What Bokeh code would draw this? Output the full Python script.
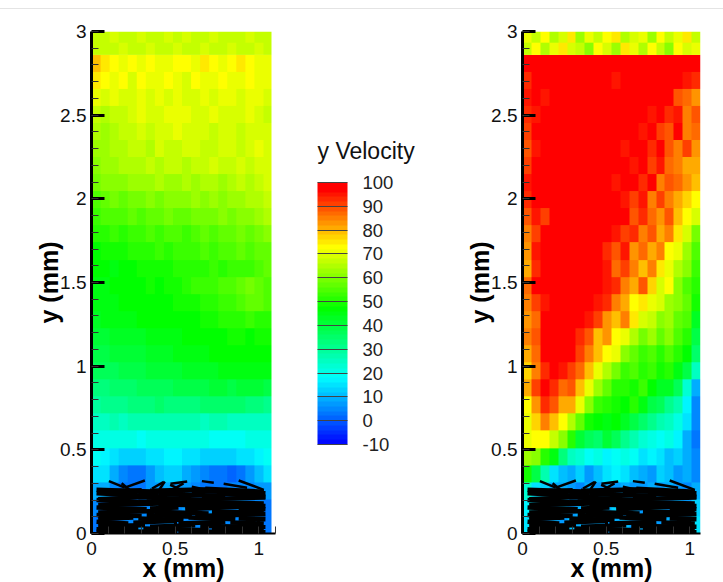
import numpy as np
from bokeh.plotting import figure
from bokeh.layouts import row
from bokeh.models import LinearColorMapper, ColorBar, FixedTicker, Range1d, Label
from bokeh.embed import file_html
from bokeh.resources import INLINE

x_major = [0, 0.5, 1]
y_major = [0, 0.5, 1, 1.5, 2, 2.5, 3]
x_labels = ["0", "0.5", "1"]
y_labels = ["0", "0.5", "1", "1.5", "2", "2.5", "3"]
legend_ticks = [-10, 0, 10, 20, 30, 40, 50, 60, 70, 80, 90, 100]
anchor_vals = [-10, 18, 47, 73, 97, 100]
anchor_rgb = [(0, 0, 255), (0, 255, 255), (0, 255, 0), (255, 255, 0), (255, 0, 0), (255, 0, 0)]

left_top = [
[66,67,68,67,66,68,67,66,68,67,68,66,67,68,67,66,67,68,66,67],
[67,66,67,68,67,66,68,67,66,68,67,67,68,66,67,68,66,67,68,66]]
left_main = [
[78,74,73,71,73,70,73,71,70,72,73,71,74,72,70,73,74,73,71,70],
[74,72,70,72,69,72,70,71,73,70,69,72,70,71,72,70,71,73,70,71],
[70,69,70,68,69,70,68,70,69,71,69,68,70,69,70,71,69,70,71,69],
[66,65,67,66,69,70,69,68,70,71,70,69,68,70,69,68,69,70,68,67],
[64,63,65,66,67,68,67,69,68,70,69,68,69,67,68,69,67,68,69,68],
[62,63,64,65,66,67,65,68,66,67,69,68,67,66,68,69,67,68,70,69],
[61,62,63,64,65,64,66,65,67,66,65,67,66,68,67,66,68,67,69,68],
[59,60,60,61,62,63,62,64,63,62,64,63,65,64,63,65,66,65,67,68],
[55,56,58,57,59,58,60,59,60,61,60,62,61,62,61,63,62,64,65,66],
[53,54,55,54,56,55,57,56,58,57,56,58,59,58,60,59,61,60,62,64],
[50,51,52,51,53,52,54,53,55,54,53,55,56,55,57,56,58,57,59,60],
[47,48,49,49,50,51,50,52,51,53,52,53,54,53,55,54,56,55,56,57],
[46,46,45,47,47,48,48,49,48,50,50,51,50,52,51,52,53,53,55,56],
[45,45,46,46,47,46,48,47,48,49,50,52,53,52,55,54,57,58,57,55],
[44,45,45,46,46,47,46,47,47,48,48,49,50,51,53,52,55,57,56,54],
[43,44,44,45,44,46,46,47,46,47,47,47,48,49,50,50,51,52,51,50],
[41,41,42,42,43,43,44,44,45,45,46,46,47,47,47,48,48,47,48,48],
[39,39,40,40,41,41,42,42,43,44,44,45,45,46,46,46,47,46,47,46],
[36,37,37,38,38,39,40,40,41,41,42,42,43,43,44,44,44,45,44,44],
[33,33,34,35,35,36,36,37,37,38,38,39,39,40,40,39,41,40,40,39],
[29,30,30,31,32,32,33,34,33,33,33,33,34,34,35,35,34,33,32,31],
[25,25,26,25,26,26,27,27,26,26,27,26,25,26,26,25,25,25,24,24],
[21,20,20,20,20,19,20,20,20,20,21,20,20,19,19,18,19,20,20,21],
[19,17,15,13,13,13,14,15,16,16,15,14,13,13,12,13,14,15,17,19],
[15,14,9,5,3,2,7,10,13,12,9,7,4,3,2,1,3,6,10,14],
[8,8,5,2,2,3,6,7,8,7,6,5,3,3,3,4,4,5,6,6],
[4,3,3,4,3,5,4,6,5,4,6,5,4,6,7,5,6,5,4,3],
[3,4,3,5,4,6,5,4,6,5,4,5,6,5,4,5,4,5,4,3]]

right_top = [
[70,66,72,64,68,74,62,70,66,72,75,64,68,70,62,72,66,70,74,66],
[66,72,64,70,74,68,66,60,72,68,62,74,70,64,72,66,60,72,68,70]]
right_main = [
[97,100,100,100,98,100,100,100,100,100,100,100,97,100,100,100,100,98,100,97],
[92,100,100,98,100,100,96,100,100,100,95,100,100,100,100,100,100,100,94,92],
[95,100,95,100,100,100,100,100,100,100,100,100,100,100,100,100,96,88,86,82],
[92,95,100,100,100,97,100,100,100,96,100,100,100,100,95,100,92,94,85,88],
[90,100,100,100,100,100,100,100,100,100,100,96,100,95,100,90,88,96,84,86],
[88,95,100,100,100,100,100,100,100,100,100,94,100,100,92,96,88,84,90,82],
[90,100,100,100,100,100,100,100,100,100,100,100,95,100,90,94,86,84,80,80],
[95,100,100,100,100,100,100,100,100,100,95,100,100,92,96,85,88,86,82,78],
[93,100,100,100,100,96,100,100,100,100,100,95,90,94,85,90,84,80,76,72],
[88,95,90,100,100,100,100,100,100,100,96,100,88,92,86,82,88,78,72,68],
[84,90,98,100,100,100,100,100,100,100,95,90,92,85,88,80,84,74,68,58],
[82,95,100,100,100,100,100,100,100,92,88,94,82,86,80,84,72,70,62,55],
[80,92,100,100,96,100,100,100,100,95,86,90,84,78,84,74,70,64,60,52],
[86,100,100,100,100,100,100,100,100,94,92,84,80,88,76,68,72,60,55,50],
[84,90,95,100,100,100,100,96,95,92,84,80,72,74,70,68,62,60,56,48],
[82,86,96,100,100,100,98,95,90,82,78,84,74,68,66,60,62,56,54,42],
[84,88,100,100,100,96,92,88,78,82,72,70,64,58,62,56,60,54,50,38],
[80,86,96,100,98,100,90,84,78,72,70,60,56,52,54,50,55,50,46,34],
[76,84,92,100,94,90,86,78,70,64,58,52,54,50,52,48,50,44,38,24],
[80,90,96,92,86,88,78,70,62,56,50,50,48,52,46,42,42,36,22,8],
[72,82,92,88,80,80,70,60,52,50,48,46,50,44,38,36,30,26,16,5],
[70,76,84,78,72,64,56,48,46,44,46,42,38,34,30,26,24,20,14,4],
[70,72,72,66,60,50,40,36,34,40,36,30,26,22,20,18,20,16,8,3],
[62,60,50,44,32,24,22,18,20,16,18,20,18,14,16,14,10,12,8,4],
[48,38,26,14,10,8,12,6,10,14,16,14,10,8,6,12,10,6,8,5],
[22,14,12,8,8,6,4,8,6,8,6,8,6,6,8,6,8,6,4,8],
[16,12,8,6,10,6,8,10,6,8,12,6,8,6,10,8,6,8,6,12],
[14,10,6,8,6,10,8,6,8,6,8,10,6,8,6,6,8,6,8,14]]

top_x0 = [.104,.199,.18,.406,.47,.48,.472,.66,.88,.79,.362,.60]
top_y0 = [.313,.274,.30,.263,.29,.26,.297,.313,.317,.297,.269,.28]
top_x1 = [.199,.319,.24,.438,.56,.55,.572,.731,1.03,.93,.43,.69]
top_y1 = [.274,.317,.25,.311,.25,.30,.311,.303,.261,.273,.307,.26]
fib_x0 = [.03,.35,.68,.04,.28,.60,.03,.40,.75,.04,.33,.66,.03,.28,.60,.04,.40,.76,.03,.35,.56,.88,.04,.38,.72,.03,.33,.62,.04,.28,.58,.88,.03,.25,.52,.83,.04,.35,.65,.03,.31,.72,.03,.52]
fib_y0 = [.262,.255,.268,.25,.245,.255,.24,.235,.24,.205,.215,.205,.2,.19,.19,.17,.175,.17,.155,.15,.145,.15,.125,.13,.13,.11,.11,.105,.085,.09,.095,.09,.07,.065,.06,.065,.045,.04,.045,.025,.03,.03,.01,.012]
fib_x1 = [.40,.72,1.03,.30,.65,1.04,.45,.80,1.04,.35,.70,1.04,.30,.62,1.03,.42,.78,1.04,.33,.52,.90,1.04,.40,.70,1.03,.30,.60,1.04,.25,.55,.86,1.04,.22,.50,.80,1.03,.32,.62,1.04,.28,.70,1.03,.50,1.04]
fib_y1 = [.25,.265,.25,.258,.26,.24,.22,.225,.22,.22,.2,.215,.185,.195,.18,.18,.165,.165,.145,.155,.16,.145,.135,.12,.125,.105,.10,.115,.095,.08,.085,.085,.06,.075,.07,.06,.05,.05,.04,.03,.02,.025,.012,.008]

FONT = "Liberation Sans"
Y_TOP_SPLIT = 2.86
Y_MAX = 3.0
levels = np.arange(-9, 100, 2.0)
pal_r = np.interp(levels, anchor_vals, [c[0] for c in anchor_rgb])
pal_g = np.interp(levels, anchor_vals, [c[1] for c in anchor_rgb])
pal_b = np.interp(levels, anchor_vals, [c[2] for c in anchor_rgb])
palette = ["#%02x%02x%02x" % (int(r), int(g), int(b)) for r, g, b in zip(pal_r, pal_g, pal_b)]
mapper = LinearColorMapper(palette=palette, low=-10, high=100)


def panel(top, main, x_end, data_end, width, border_left, border_right):
    p = figure(width=width, height=576, output_backend="svg", toolbar_location=None,
               x_range=Range1d(0, x_end), y_range=Range1d(0, Y_MAX),
               min_border_left=border_left, min_border_right=border_right,
               min_border_top=22, min_border_bottom=52,
               x_axis_label="x (mm)", y_axis_label="y (mm)")
    p.outline_line_color = None
    p.grid.visible = False
    p.background_fill_color = None
    p.border_fill_color = None
    p.image(image=[np.array(main[::-1], dtype=float)], x=0, y=0, dw=data_end, dh=Y_TOP_SPLIT, color_mapper=mapper)
    p.image(image=[np.array(top[::-1], dtype=float)], x=0, y=Y_TOP_SPLIT, dw=data_end, dh=Y_MAX - Y_TOP_SPLIT, color_mapper=mapper)
    p.segment(fib_x0, fib_y0, fib_x1, fib_y1, line_color="black", line_width=4.5)
    p.segment(top_x0, top_y0, top_x1, top_y1, line_color="black", line_width=2.5)
    for ax, maj, labels in ((p.xaxis[0], x_major, x_labels), (p.yaxis[0], y_major, y_labels)):
        ax.ticker = FixedTicker(ticks=maj, minor_ticks=[round(i * 0.1, 1) for i in range(0, 31)])
        ax.major_label_overrides = dict(zip(maj, labels))
        ax.major_label_text_font = FONT
        ax.major_label_text_font_size = "19px"
        ax.major_label_text_color = "#111111"
        ax.axis_label_text_font = FONT
        ax.axis_label_text_font_size = "25px"
        ax.axis_label_text_font_style = "bold"
        ax.axis_label_text_color = "black"
        ax.major_tick_out = 0
        ax.major_tick_in = 13
        ax.minor_tick_out = 0
        ax.minor_tick_in = 7
        ax.axis_line_color = "black"
        ax.major_tick_line_color = "black"
        ax.minor_tick_line_color = "#333333"
        ax.minor_tick_line_width = 1
        ax.major_tick_line_width = 3
    p.yaxis[0].axis_line_width = 3
    p.xaxis[0].axis_line_width = 2
    p.yaxis[0].major_label_standoff = 5
    p.xaxis[0].major_label_standoff = 8
    p.yaxis[0].axis_label_standoff = -6
    p.xaxis[0].axis_label_standoff = -4
    return p


fig_a = panel(left_top, left_main, 1.10, 1.076, 290, 91, 15)
fig_b = panel(right_top, right_main, 1.064, 1.064, 283, 82, 23)

fig_l = figure(width=150, height=576, output_backend="svg", toolbar_location=None,
               x_range=Range1d(0, 1), y_range=Range1d(0, 1),
               min_border_left=0, min_border_right=0, min_border_top=0, min_border_bottom=0)
fig_l.axis.visible = False
fig_l.grid.visible = False
fig_l.outline_line_color = None
bar = ColorBar(color_mapper=mapper, width=30, height=262, location=(27, 89),
               ticker=FixedTicker(ticks=legend_ticks),
               major_label_overrides={t: str(t) for t in legend_ticks},
               major_label_text_font=FONT, major_label_text_font_size="18.5px",
               major_label_text_color="#222222", label_standoff=15,
               major_tick_line_color="#444444", major_tick_in=30, major_tick_out=0,
               minor_tick_line_color=None, bar_line_color=None, padding=0,
               background_fill_color=None, border_line_color=None)
fig_l.add_layout(bar)
fig_l.add_layout(Label(x=27, y=370, x_units="screen", y_units="screen", text="y Velocity",
                       text_font=FONT, text_font_size="23px", text_color="#111111"))

page = row(fig_a, fig_l, fig_b, margin=(8, 0, -3, 0), spacing=0,
           styles={"border-top": "1px solid #e4e4e4"})
open("out.html", "w").write(file_html(page, INLINE))
